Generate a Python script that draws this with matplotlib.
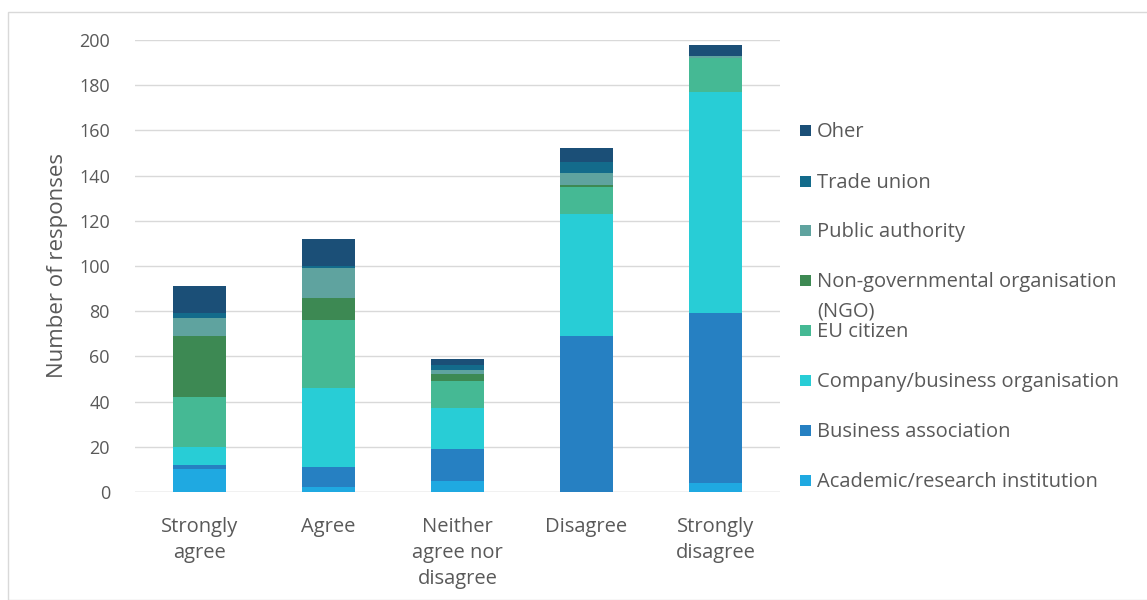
import matplotlib
matplotlib.use("Agg")
import matplotlib.pyplot as plt
from matplotlib.patches import Rectangle
import numpy as np

categories = ["Strongly\nagree", "Agree", "Neither\nagree nor\ndisagree", "Disagree", "Strongly\ndisagree"]
series_names = ["Academic/research institution", "Business association",
                "Company/business organisation", "EU citizen",
                "Non-governmental organisation\n(NGO)", "Public authority",
                "Trade union", "Oher"]
academic = [10, 2, 5, 0, 4]
business_assoc = [2, 9, 14, 69, 75]
company = [8, 35, 18, 54, 98]
eu_citizen = [22, 30, 12, 12, 15]
ngo = [27, 10, 3, 1, 0]
public_auth = [8, 13, 2, 5, 1]
trade_union = [2, 1, 2, 5, 0]
other = [12, 12, 3, 6, 5]
series = [academic, business_assoc, company, eu_citizen, ngo, public_auth, trade_union, other]
colors = ["#1fa9e1", "#2680c2", "#28cdd6", "#45b994", "#3d8953", "#5fa39f", "#136b8b", "#1b4f77"]

plt.rcParams['font.family'] = ['Open Sans', 'DejaVu Sans']
TXT = "#595959"
fig = plt.figure(figsize=(11.47, 6.0), dpi=100)
fig.patches.append(Rectangle((8/1147, 0), 1.0, 1 - 12/600, transform=fig.transFigure,
                             fill=False, edgecolor="#d9d9d9", linewidth=1.0))
ax = fig.add_axes([135/1147, 1 - 492/600, (780 - 135)/1147, (492 - 40)/600])

x = np.arange(len(categories))
bottom = np.zeros(len(categories))
for vals, col, name in zip(series, colors, series_names):
    ax.bar(x, vals, bottom=bottom, width=0.41, color=col, label=name, zorder=3)
    bottom += np.array(vals)

ax.set_xlim(-0.5, len(categories) - 0.5)
ax.set_ylim(0, 200)
ax.set_yticks(np.arange(0, 201, 20))
ax.yaxis.grid(True, color="#d9d9d9", linewidth=1.0, zorder=0)
for s in ax.spines.values():
    s.set_visible(False)
ax.axhline(0, color="#d9d9d9", linewidth=1.0, zorder=1)
ax.tick_params(axis='y', length=0, labelsize=13, colors=TXT, pad=18)
ax.tick_params(axis='x', length=0, labelsize=14.5, colors=TXT, pad=18)
ax.set_xticks(x)
ax.set_xticklabels(categories, linespacing=1.4)
fig.text(58/1147, 1 - 265/600, "Number of responses", rotation=90, fontsize=16,
         color=TXT, ha='center', va='center')

# manual legend (top entry = last series)
legend_y = [130, 181, 230, 280, 330, 380, 430, 480]
for name, col, yy in zip(series_names[::-1], colors[::-1], legend_y):
    fig.patches.append(Rectangle((800/1147, 1 - (yy + 6)/600), 11/1147, 11/600,
                                 transform=fig.transFigure, facecolor=col, edgecolor='none'))
    for k, line in enumerate(name.split("\n")):
        fig.text(817/1147, 1 - (yy + 2 + 30 * k)/600, line, fontsize=14.5, color=TXT,
                 va='center', ha='left')

fig.savefig("out.png", dpi=100)
